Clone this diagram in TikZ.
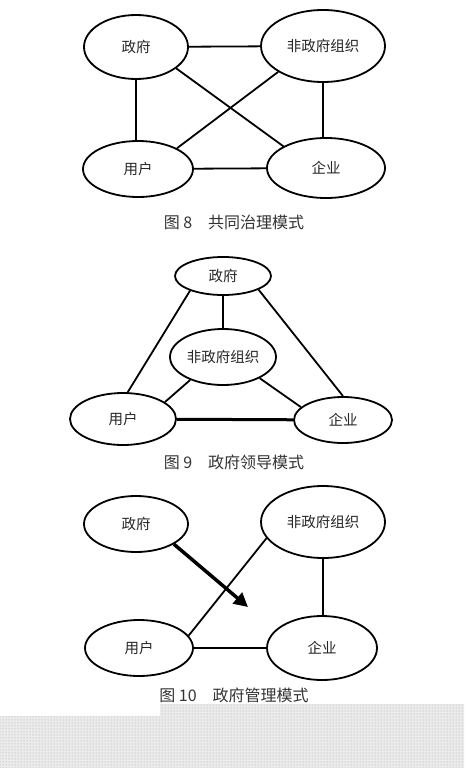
\documentclass[tikz,border=0pt]{standalone}
\usepackage{fontspec}
\newfontfamily\cjk{Noto Sans CJK SC}
\usetikzlibrary{shapes.geometric, arrows.meta, positioning, patterns}

\begin{document}
\begin{tikzpicture}[
    x=1pt, y=-1pt,
    font=\cjk\fontsize{14.5}{16}\selectfont,
    % Style des ellipses
    actor/.style={
        ellipse,
        draw=black,
        fill=white,
        line width=1.8pt,
        inner sep=0pt,
        text=black!85
    },
    link/.style={
        draw=black,
        line width=1.8pt
    },
    caption/.style={
        font=\cjk\fontsize{16}{18}\selectfont,
        text=black!80
    }
]
    \useasboundingbox (0,0) rectangle (464,768);

    % --- FIGURE 8 ---
    \node[actor, minimum width=104pt, minimum height=64pt] (gov8) at (136,47) {政府};
    \node[actor, minimum width=124pt, minimum height=72pt] (ngo8) at (323,46) {非政府组织};
    \node[actor, minimum width=110pt, minimum height=56pt] (user8) at (138,169) {用户};
    \node[actor, minimum width=118pt, minimum height=60pt] (firm8) at (326,168) {企业};
    \node[caption] (cap8) at (234,222) {图 8\quad 共同治理模式};

    \draw[link] (gov8) -- (ngo8);
    \draw[link] (gov8.south) -- (gov8.south |- user8.north);
    \draw[link] (ngo8.south) -- (ngo8.south |- firm8.north);
    \draw[link] (user8) -- (firm8);
    \draw[link] (gov8.332) -- (firm8.153);
    \draw[link] (ngo8.210) -- (user8.28);

    % --- FIGURE 9 ---
    \node[actor, minimum width=96pt, minimum height=38pt] (gov9) at (223,276) {政府};
    \node[actor, minimum width=106pt, minimum height=56pt] (ngo9) at (223,357) {非政府组织};
    \node[actor, minimum width=106pt, minimum height=52pt] (user9) at (123,419) {用户};
    \node[actor, minimum width=98pt, minimum height=46pt] (firm9) at (343,420) {企业};
    \node[caption] (cap9) at (234,462) {图 9\quad 政府领导模式};

    \draw[link] (gov9) -- (ngo9);
    \draw[link] (gov9.204) -- (user9.80);
    \draw[link] (gov9.339) -- (firm9.90);
    \draw[link] (ngo9.215) -- (user9.22);
    \draw[link] (ngo9.330) -- (firm9.163);
    \draw[link, line width=3pt] (user9) -- (firm9);

    % --- FIGURE 10 ---
    \node[actor, minimum width=104pt, minimum height=56pt] (gov10) at (136,524) {政府};
    \node[actor, minimum width=124pt, minimum height=72pt] (ngo10) at (323,522) {非政府组织};
    \node[actor, minimum width=108pt, minimum height=56pt] (user10) at (139,648) {用户};
    \node[actor, minimum width=110pt, minimum height=64pt] (firm10) at (322,648) {企业};
    \node[caption] (cap10) at (234,695) {图 10\quad 政府管理模式};
    \coordinate (target10) at (248,607);

    \draw[link] (ngo10.196) -- (user10.14);
    \draw[link] (ngo10.south) -- (ngo10.south |- firm10.north);
    \draw[link] (user10) -- (firm10);
    \draw[link, line width=3.5pt, -{Triangle[length=14pt, width=14pt]}] (gov10.332) -- (target10);

    % Zone grise en bas
    \fill[black!8] (160,704) rectangle (464,768) (0,716) rectangle (160,768);
    \fill[pattern=dots, pattern color=black!35] (160,704) rectangle (464,768) (0,716) rectangle (160,768);

\end{tikzpicture}
\end{document}
